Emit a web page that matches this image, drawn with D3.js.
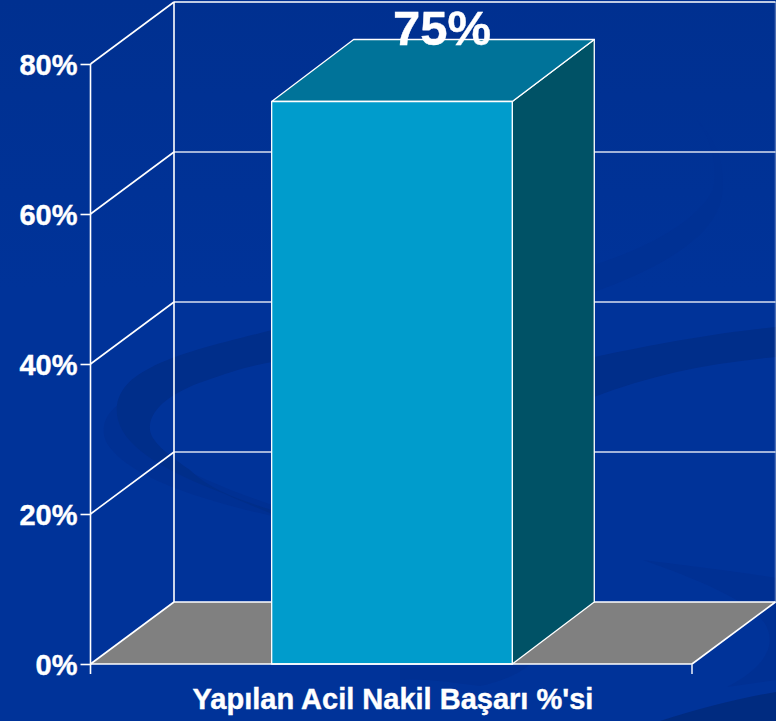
<!DOCTYPE html>
<html>
    <head>
        <meta charset="utf-8">
        <script src="https://d3js.org/d3.v7.min.js"></script>
        <style>
            html, body {
                margin: 0;
                padding: 0;
                background: #003399;
            }
            svg {
                display: block;
            }
            svg text {
                font-family: "Liberation Sans", Arial, sans-serif;
                font-weight: bold;
                fill: #fff;
                stroke: #fff;
                stroke-width: 0.4px;
            }
        </style>
    </head>
    <body>
        <div id="chart"></div>

        <script>
            var categories = ["Yapılan Acil Nakil Başarı %'si"];
            var values = [75];
            var yTicks = [0, 20, 40, 60, 80];

            var width = 776, height = 721;
            var depthX = 83.5, depthY = -62;  // 3d offset of the back wall
            var barDepthX = 82;

            var xScale = d3.scaleBand()
                .domain(categories)
                .range([90.5, 692])
                .paddingInner(0.6)
                .paddingOuter(0.3)
                .align(0.502);
            var yScale = d3.scaleLinear().domain([0, 80]).range([664, 64]);

            var svg = d3.select("#chart")
                .append("svg")
                    .attr("width", width)
                    .attr("height", height);

            // background: slight gradient and the template swooshes
            var grad = svg.append("defs").append("linearGradient")
                .attr("id", "bgGrad")
                .attr("x1", 0).attr("x2", 0).attr("y1", 0).attr("y2", 1);
            grad.append("stop").attr("offset", "0").attr("stop-color", "#003090");
            grad.append("stop").attr("offset", "0.4").attr("stop-color", "#003399");
            svg.append("rect").attr("width", width).attr("height", height).attr("fill", "url(#bgGrad)");

            var bg = svg.append("g").attr("fill", "#002e8a");
            // fainter lobe under the left curl
            bg.append("path").attr("fill", "#003093")
                .attr("d", "M118,405 C100,418 100,438 112,450 C135,478 200,500 272,516 L272,505 C200,480 130,450 118,405Z");
            // left curl
            bg.append("path")
                .attr("d", "M272,330 C230,341 180,352 150,368 C122,382 113,400 118,420 C126,450 170,473 225,494 C240,501 256,507 272,514 L272,510 C240,500 210,490 190,470 C165,452 148,440 150,425 C152,408 172,392 205,381 C230,372 250,366 272,362Z");
            // same band coming out on the right of the bar
            bg.append("path")
                .attr("d", "M594,357 C650,345 720,332 776,327 L776,357 C710,363 650,375 594,397Z");
            // thin arc upper right
            bg.append("path").attr("fill", "#003194")
                .attr("d", "M697,120 C716,140 726,165 722,195 C716,240 650,272 594,292 L594,265 C640,250 695,225 713,190 C718,165 712,140 697,120Z");
            // bottom and right corner shapes
            bg.append("path").attr("fill", "#003093")
                .attr("d", "M400,668 L530,664 C520,674 500,682 480,686 C450,682 420,678 400,680Z");
            bg.append("path").attr("fill", "#003093")
                .attr("d", "M643,560 C690,566 740,572 776,578 L776,680 L727,687 C760,670 775,650 768,630 C760,605 700,580 643,560Z");
            bg.append("path").attr("fill", "#002b80")
                .attr("d", "M660,721 C700,708 740,698 776,692 L776,721Z");

            function drawFloorAndWalls() {
                var x0 = xScale.range()[0], x1 = xScale.range()[1];

                // grey floor
                svg.append("path")
                    .attr("d", d3.line()([
                        [x0, yScale(0)],
                        [x1, yScale(0)],
                        [x1 + depthX, yScale(0) + depthY],
                        [x0 + depthX, yScale(0) + depthY]
                    ]) + "Z")
                    .attr("fill", "#808080");

                var grid = svg.append("g")
                    .attr("stroke", "#fff")
                    .attr("stroke-width", 1.6)
                    .attr("fill", "none");

                grid.selectAll(".back")
                    .data(yTicks)
                    .enter()
                    .append("line")
                    .attr("x1", x0 + depthX)
                    .attr("x2", x1 + depthX)
                    .attr("y1", function(d) { return yScale(d) + depthY; })
                    .attr("y2", function(d) { return yScale(d) + depthY; })
                    .attr("stroke-opacity", function(d) { return d > 0 && d < 80 ? 0.85 : 1; });

                grid.selectAll(".side")
                    .data(yTicks)
                    .enter()
                    .append("line")
                    .attr("x1", x0)
                    .attr("x2", x0 + depthX)
                    .attr("y1", function(d) { return yScale(d); })
                    .attr("y2", function(d) { return yScale(d) + depthY; });

                grid.append("line")
                    .attr("x1", x0 + depthX).attr("x2", x0 + depthX)
                    .attr("y1", yScale(80) + depthY).attr("y2", yScale(0) + depthY);
                grid.append("line")
                    .attr("x1", x1 + depthX).attr("x2", x1 + depthX)
                    .attr("y1", yScale(80) + depthY).attr("y2", yScale(0) + depthY)
                    .attr("stroke-opacity", 0.3);
                grid.append("line")
                    .attr("x1", x1).attr("x2", x1 + depthX)
                    .attr("y1", yScale(0)).attr("y2", yScale(0) + depthY);
            }

            function drawBars() {
                var bars = svg.selectAll(".bar")
                    .data(values)
                    .enter()
                    .append("g")
                    .attr("class", "bar")
                    .attr("stroke", "#fff")
                    .attr("stroke-width", 1.3)
                    .attr("stroke-linejoin", "round");

                var bw = xScale.bandwidth();

                // right side
                bars.append("path")
                    .attr("fill", "#005266")
                    .attr("d", function(d, i) {
                        var x = xScale(categories[i]) + bw;
                        return d3.line()([
                            [x, yScale(0)], [x, yScale(d)],
                            [x + barDepthX, yScale(d) + depthY], [x + barDepthX, yScale(0) + depthY]
                        ]) + "Z";
                    });
                // top
                bars.append("path")
                    .attr("fill", "#007399")
                    .attr("d", function(d, i) {
                        var x = xScale(categories[i]);
                        return d3.line()([
                            [x, yScale(d)], [x + bw, yScale(d)],
                            [x + bw + barDepthX, yScale(d) + depthY], [x + barDepthX, yScale(d) + depthY]
                        ]) + "Z";
                    });
                // front
                bars.append("rect")
                    .attr("fill", "#009ccc")
                    .attr("x", function(d, i) { return xScale(categories[i]); })
                    .attr("y", function(d) { return yScale(d); })
                    .attr("width", bw)
                    .attr("height", function(d) { return yScale(0) - yScale(d); });

                svg.selectAll(".value")
                    .data(values)
                    .enter()
                    .append("text")
                    .attr("class", "value")
                    .attr("text-anchor", "middle")
                    .attr("x", function(d, i) { return xScale(categories[i]) + bw / 2 + 50; })
                    .attr("y", 45)
                    .style("font-size", "49px")
                    .text(function(d) { return d + "%"; });
            }

            function drawAxes() {
                var yAxis = svg.append("g")
                    .attr("transform", "translate(90.5,0)")
                    .call(d3.axisLeft(yScale)
                        .tickValues(yTicks)
                        .tickSize(10)
                        .tickPadding(3)
                        .tickFormat(function(d) { return d + "%"; }));
                yAxis.select(".domain").remove();
                yAxis.selectAll("line").attr("stroke", "#fff").attr("stroke-width", 1.6);
                yAxis.selectAll("text").style("font-size", "29px").attr("dy", "0.36em");

                var x0 = xScale.range()[0], x1 = xScale.range()[1];
                // front axis lines
                svg.append("line")
                    .attr("x1", x0).attr("x2", x0)
                    .attr("y1", yScale(80)).attr("y2", yScale(0) + 10)
                    .attr("stroke", "#fff").attr("stroke-width", 1.6);
                svg.append("line")
                    .attr("x1", x0).attr("x2", x1)
                    .attr("y1", yScale(0)).attr("y2", yScale(0))
                    .attr("stroke", "#fff").attr("stroke-width", 1.6);
                svg.append("line")
                    .attr("x1", x1).attr("x2", x1)
                    .attr("y1", yScale(0)).attr("y2", yScale(0) + 10)
                    .attr("stroke", "#dfe6f5").attr("stroke-width", 1.6);

                svg.selectAll(".category")
                    .data(categories)
                    .enter()
                    .append("text")
                    .attr("class", "category")
                    .attr("text-anchor", "middle")
                    .attr("x", function(d) { return xScale(d) + xScale.bandwidth() / 2 + 1; })
                    .attr("y", 709)
                    .style("font-size", "29px")
                    .text(function(d) { return d; });
            }

            drawFloorAndWalls();
            drawBars();
            drawAxes();
        </script>
    </body>
</html>
